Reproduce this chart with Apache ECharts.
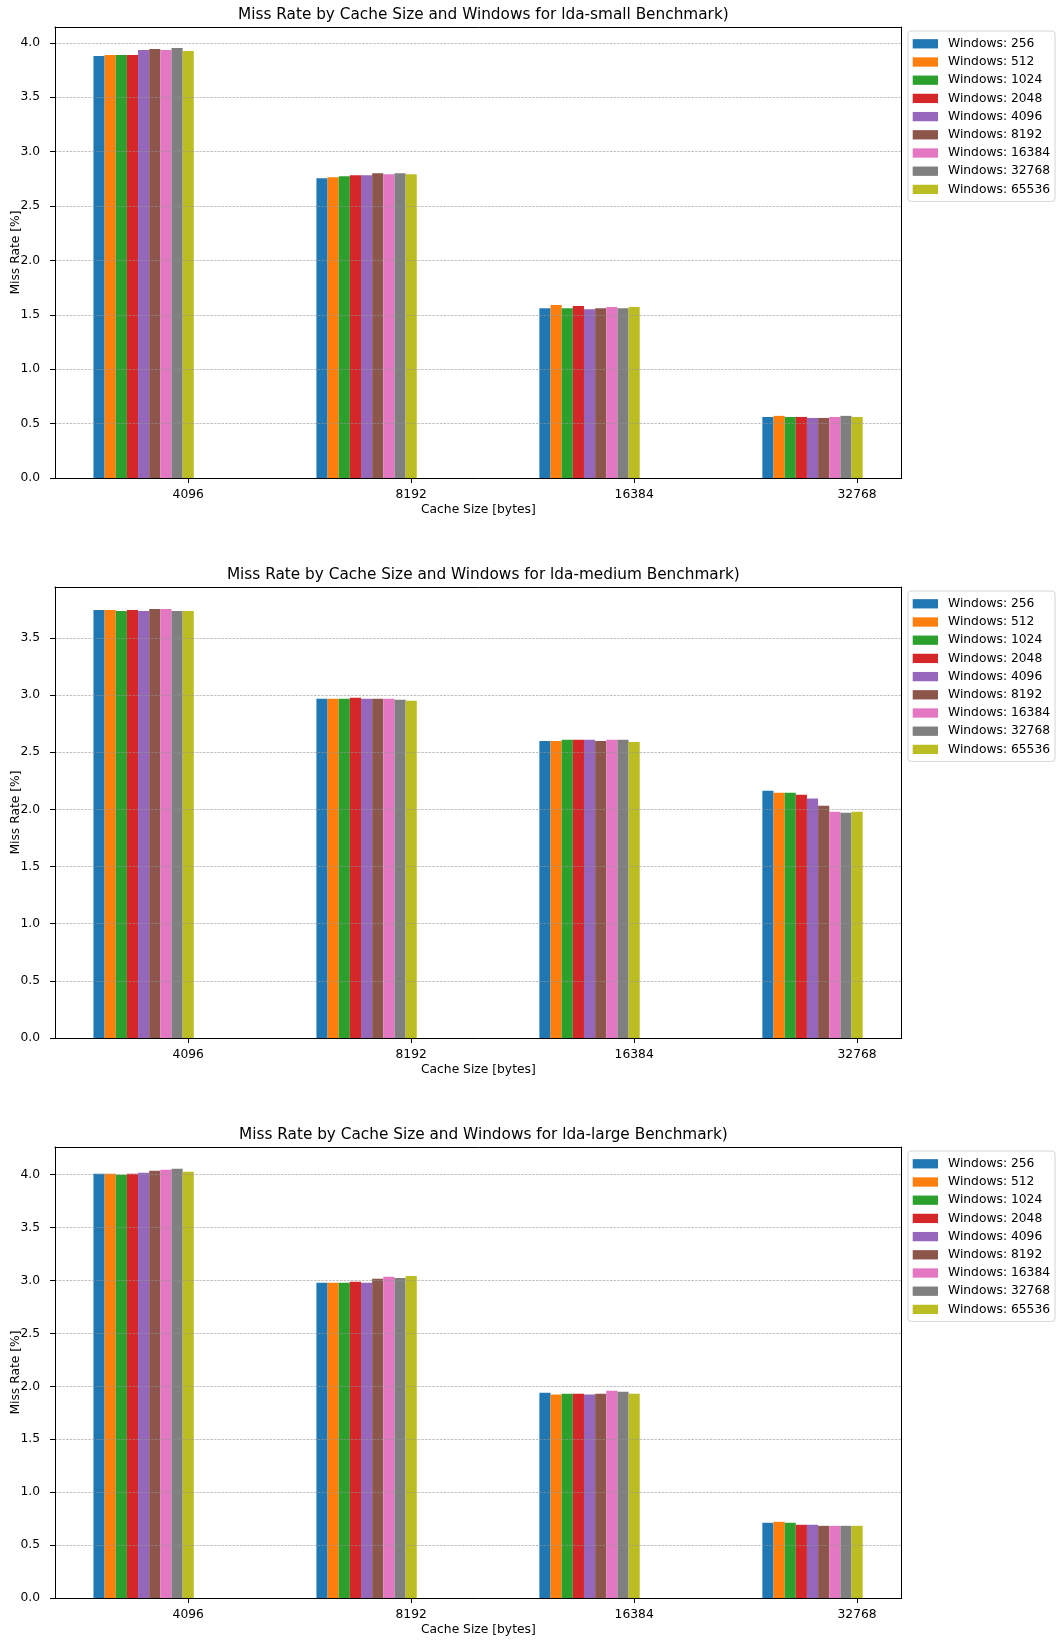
<!DOCTYPE html>
<html>
<head>
<meta charset="utf-8">
<script src="https://cdn.jsdelivr.net/npm/echarts@6/dist/echarts.min.js"></script>
<style>
  html, body { margin: 0; padding: 0; background: #ffffff; }
  #chart { width: 1057px; height: 1641px; }
</style>
</head>
<body>
<div id="chart"></div>
<script>
// Cache sizes on the x axis and window sizes, one bar series each
const cacheSizes = ['4096', '8192', '16384', '32768'];
const windowSizes = [256, 512, 1024, 2048, 4096, 8192, 16384, 32768, 65536];
const benchmarks = ['lda-small', 'lda-medium', 'lda-large'];

// Miss rate [%]: one row per cache size, one column per window size
const missSmall = [
  [3.878, 3.887, 3.887, 3.887, 3.933, 3.942, 3.933, 3.951, 3.924],
  [2.755, 2.764, 2.774, 2.783, 2.783, 2.801, 2.792, 2.801, 2.792],
  [1.561, 1.589, 1.561, 1.580, 1.552, 1.561, 1.571, 1.561, 1.571],
  [0.561, 0.571, 0.561, 0.561, 0.552, 0.552, 0.561, 0.571, 0.561]
];
const missMedium = [
  [3.744, 3.744, 3.735, 3.744, 3.735, 3.753, 3.753, 3.735, 3.735],
  [2.968, 2.968, 2.968, 2.977, 2.968, 2.968, 2.968, 2.959, 2.950],
  [2.599, 2.599, 2.608, 2.608, 2.608, 2.599, 2.608, 2.608, 2.590],
  [2.163, 2.146, 2.146, 2.128, 2.094, 2.032, 1.980, 1.971, 1.980]
];
const missLarge = [
  [4.009, 4.009, 4.000, 4.009, 4.019, 4.038, 4.047, 4.057, 4.028],
  [2.978, 2.978, 2.978, 2.988, 2.978, 3.016, 3.035, 3.025, 3.044],
  [1.940, 1.922, 1.931, 1.931, 1.922, 1.931, 1.959, 1.950, 1.931],
  [0.711, 0.720, 0.711, 0.692, 0.692, 0.682, 0.682, 0.682, 0.682]
];
const yTickLabels = ['0.0', '0.5', '1.0', '1.5', '2.0', '2.5', '3.0', '3.5', '4.0'];

const palette = ['#1f77b4', '#ff7f0e', '#2ca02c', '#d62728', '#9467bd',
                 '#8c564b', '#e377c2', '#7f7f7f', '#bcbd22'];

const datasets = [missSmall, missMedium, missLarge];
const yMax = [4.145, 3.945, 4.262];          // 5% headroom over the tallest bar
const BAR_W = 0.05;                          // bar width in x-axis units
const TICK_OFFSET = BAR_W * (windowSizes.length - 1);
const X_MIN = -0.1975, X_MAX = 3.6;
const FONT = 'DejaVu Sans';
const FS = 12.3;

const gridTops = [27, 587, 1147];
const GRID_H = 451;
const GRID_LEFT = 55, GRID_RIGHT = 155.3;

const seriesNames = windowSizes.map(w => 'Windows: ' + w);
const xTickValues = cacheSizes.map((c, g) => g + TICK_OFFSET);

const grids = [], xAxes = [], yAxes = [], series = [], legends = [], titles = [];

function renderBar(params, api) {
  const x = api.value(0), y = api.value(1);
  const a = api.coord([x - BAR_W / 2, y]);
  const b = api.coord([x + BAR_W / 2, 0]);
  return {
    type: 'rect',
    shape: { x: a[0], y: a[1], width: b[0] - a[0], height: b[1] - a[1] },
    style: { fill: api.visual('color') }
  };
}

const frameLine = { show: true, onZero: false, lineStyle: { color: '#000', width: 1 } };

datasets.forEach((rows, k) => {
  grids.push({
    left: GRID_LEFT, right: GRID_RIGHT, top: gridTops[k], height: GRID_H,
    containLabel: false, outerBoundsMode: 'none'
  });

  titles.push({
    text: 'Miss Rate by Cache Size and Windows for ' + benchmarks[k] + ' Benchmark)',
    left: GRID_LEFT + (1057 - GRID_LEFT - GRID_RIGHT) / 2, textAlign: 'center',
    top: gridTops[k] - 24,
    textStyle: { fontFamily: FONT, fontSize: 15.3, fontWeight: 'normal', color: '#000' }
  });

  const yVals = yTickLabels.map(Number).filter(v => v <= yMax[k]);

  // bottom x axis with the cache size labels
  xAxes.push({
    type: 'value', gridIndex: k, position: 'bottom', min: X_MIN, max: X_MAX,
    name: 'Cache Size [bytes]', nameLocation: 'middle', nameGap: 26, nameMoveOverlap: false,
    nameTextStyle: { fontFamily: FONT, fontSize: FS, color: '#000' },
    axisLine: frameLine,
    axisTick: { show: true, customValues: xTickValues, length: 5, lineStyle: { color: '#000' } },
    axisLabel: {
      customValues: xTickValues, margin: 11,
      fontFamily: FONT, fontSize: FS, color: '#000',
      formatter: v => cacheSizes[Math.round(v - TICK_OFFSET)]
    },
    splitLine: { show: false }, z: 4
  });
  // top edge of the frame
  xAxes.push({
    type: 'value', gridIndex: k, position: 'top', min: X_MIN, max: X_MAX,
    axisLine: frameLine,
    axisTick: { show: false }, axisLabel: { show: false }, splitLine: { show: false }, z: 4
  });

  yAxes.push({
    type: 'value', gridIndex: k, position: 'left', min: 0, max: yMax[k],
    name: 'Miss Rate [%]', nameLocation: 'middle', nameGap: 33.5, nameMoveOverlap: false,
    nameTextStyle: { fontFamily: FONT, fontSize: FS, color: '#000' },
    axisLine: frameLine,
    axisTick: { show: true, customValues: yVals, length: 5, lineStyle: { color: '#000' } },
    axisLabel: {
      customValues: yVals, margin: 15,
      fontFamily: FONT, fontSize: FS, color: '#000',
      formatter: v => yTickLabels[Math.round(v * 2)]
    },
    interval: 0.5,
    splitLine: { show: true, lineStyle: { color: 'rgba(150,150,150,0.75)', width: 0.8, type: [2.5, 1.2] } },
    z: 3
  });
  // right edge of the frame
  yAxes.push({
    type: 'value', gridIndex: k, position: 'right', min: 0, max: yMax[k],
    axisLine: frameLine,
    axisTick: { show: false }, axisLabel: { show: false }, splitLine: { show: false }, z: 4
  });

  windowSizes.forEach((w, i) => {
    series.push({
      type: 'custom', name: seriesNames[i],
      xAxisIndex: 2 * k, yAxisIndex: 2 * k,
      itemStyle: { color: palette[i] },
      encode: { x: 0, y: 1 },
      renderItem: renderBar,
      data: cacheSizes.map((c, g) => [g + i * BAR_W, rows[g][i]]),
      z: 2, silent: true, animation: false
    });
  });

  legends.push({
    data: seriesNames, orient: 'vertical', left: 908, top: gridTops[k] + 4,
    icon: 'rect', itemWidth: 25.3, itemHeight: 9.3, itemGap: 4.2,
    padding: [5.8, 5, 5, 4.7],
    borderColor: '#d6d6d6', borderWidth: 1, borderRadius: 3,
    backgroundColor: 'rgba(255,255,255,0.8)',
    textStyle: { fontFamily: FONT, fontSize: FS, color: '#000', lineHeight: 14, padding: [0, 0, 0, 5] },
    selectedMode: false
  });
});

const chart = echarts.init(document.getElementById('chart'), null, { renderer: 'canvas' });
chart.setOption({
  backgroundColor: '#ffffff',
  animation: false,
  color: palette,
  title: titles,
  grid: grids,
  xAxis: xAxes,
  yAxis: yAxes,
  legend: legends,
  series: series
});
</script>
</body>
</html>
